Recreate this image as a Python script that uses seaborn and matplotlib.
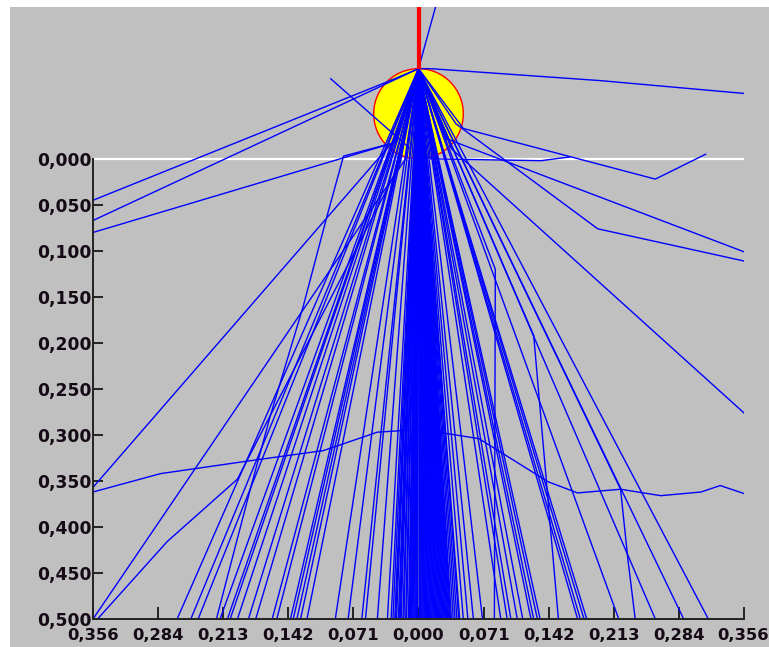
import matplotlib
matplotlib.use("Agg")
import matplotlib.pyplot as plt
import pandas as pd
import seaborn as sns
from matplotlib.patches import Circle, Rectangle

# ---------------- data ----------------
source_x = 0.0
source_y = -0.098
sphere_center_y = -0.049
sphere_radius = 0.049
floor_y = 0.5

# straight tracks from the source: x where each reaches the bottom (y = 0.5)
fan_end_x = [-0.264, -0.249, -0.241, -0.217, -0.209, -0.206, -0.198, -0.186, -0.178,
             -0.160, -0.155, -0.140, -0.137, -0.133, -0.129, -0.122, -0.091, -0.077,
             -0.062, -0.058, -0.045, -0.034, -0.025, -0.022, -0.020, -0.017, -0.014,
             -0.011, -0.008, -0.005, -0.003, -0.001, 0.002, 0.004, 0.007, 0.010, 0.013,
             0.016, 0.019, 0.022, 0.025, 0.027, 0.030, 0.032, 0.035, 0.038, 0.042,
             0.045, 0.049, 0.054, 0.060, 0.070, 0.090, 0.097, 0.101, 0.108, 0.114,
             0.123, 0.126, 0.130, 0.133, 0.174, 0.177, 0.181, 0.184, 0.219, 0.259,
             0.290, 0.317]
# dense core of the spray (x at the bottom)
core_end_x = [-0.030, -0.028, -0.026, -0.024, -0.021, -0.019, -0.016, -0.013, -0.010,
              -0.009, -0.007, -0.006, -0.004, -0.002, 0.000, 0.001, 0.003, 0.005,
              0.006, 0.008, 0.009, 0.011, 0.012, 0.014, 0.015, 0.017, 0.018, 0.020,
              0.021, 0.023, 0.024, 0.026, 0.028, 0.029, 0.031, 0.033, 0.034, 0.036,
              0.040, 0.044]

# deflected / bent tracks
up_x = [0.0, 0.020]
up_y = [-0.098, -0.170]
flat_x = [0.0, 0.013, 0.199, 0.357]
flat_y = [-0.098, -0.098, -0.085, -0.071]
left1_x = [0.0, -0.036, -0.356]
left1_y = [-0.098, -0.083, 0.045]
left2_x = [0.0, -0.028, -0.356]
left2_y = [-0.098, -0.085, 0.067]
left3_x = [0.0, -0.025, -0.356]
left3_y = [-0.098, -0.018, 0.080]
cross_x = [-0.096, -0.009]
cross_y = [-0.087, -0.011]
vee_x = [0.0, 0.049, 0.259, 0.314]
vee_y = [-0.098, -0.033, 0.022, -0.005]
hook_x = [0.0, 0.030, 0.356, 0.359]
hook_y = [-0.098, -0.022, 0.101, 0.097]
kink_x = [0.0, 0.041, 0.196, 0.356]
kink_y = [-0.098, -0.038, 0.076, 0.111]
steep_right_x = [0.0, 0.036, 0.357]
steep_right_y = [-0.098, -0.011, 0.277]
skim_x = [0.0, 0.013, 0.134, 0.165]
skim_y = [-0.098, 0.000, 0.002, -0.002]
cross_wide_x = [-0.356, -0.282, -0.184, -0.104, -0.045, 0.002, 0.066, 0.142, 0.174,
                0.221, 0.265, 0.309, 0.330, 0.357]
cross_wide_y = [0.362, 0.342, 0.328, 0.317, 0.297, 0.294, 0.304, 0.351, 0.363,
                0.359, 0.366, 0.362, 0.355, 0.364]
diag1_x = [0.0, -0.025, -0.356]
diag1_y = [-0.098, -0.022, 0.357]
diag2_x = [0.0, -0.014, -0.356]
diag2_y = [-0.098, 0.000, 0.500]
curve_left_x = [0.0, -0.020, -0.198, -0.275, -0.351]
curve_left_y = [-0.098, 0.005, 0.348, 0.416, 0.500]
bounce_left_x = [0.0, -0.025, -0.082, -0.100, -0.126, -0.162, -0.184, -0.221]
bounce_left_y = [-0.098, -0.018, -0.003, 0.062, 0.160, 0.279, 0.359, 0.500]
drop1_x = [0.0, 0.084, 0.083]
drop1_y = [-0.098, 0.120, 0.500]
drop2_x = [0.0, 0.126, 0.153]
drop2_y = [-0.098, 0.192, 0.500]
drop3_x = [0.0, 0.221, 0.229, 0.237]
drop3_y = [-0.098, 0.359, 0.435, 0.500]

y_ticks = [0.0, 0.05, 0.10, 0.15, 0.20, 0.25, 0.30, 0.35, 0.40, 0.45, 0.50]
y_tick_labels = ["0,000", "0,050", "0,100", "0,150", "0,200", "0,250",
                 "0,300", "0,350", "0,400", "0,450", "0,500"]
x_ticks = [-0.356, -0.2848, -0.2136, -0.1424, -0.0712, 0.0,
           0.0712, 0.1424, 0.2136, 0.2848, 0.356]
x_tick_labels = ["0,356", "0,284", "0,213", "0,142", "0,071", "0,000",
                 "0,071", "0,142", "0,213", "0,284", "0,356"]

# ---------------- build long table ----------------
rows = []
tid = 0
for xe in fan_end_x + core_end_x:
    rows.append((tid, 0, source_x, source_y))
    rows.append((tid, 1, xe, floor_y))
    tid += 1
for xs, ys in [(up_x, up_y), (flat_x, flat_y), (left1_x, left1_y), (left2_x, left2_y),
               (left3_x, left3_y), (cross_x, cross_y), (vee_x, vee_y), (hook_x, hook_y),
               (kink_x, kink_y), (steep_right_x, steep_right_y), (skim_x, skim_y),
               (cross_wide_x, cross_wide_y), (diag1_x, diag1_y), (diag2_x, diag2_y),
               (curve_left_x, curve_left_y), (bounce_left_x, bounce_left_y),
               (drop1_x, drop1_y), (drop2_x, drop2_y), (drop3_x, drop3_y)]:
    for k, (xv, yv) in enumerate(zip(xs, ys)):
        rows.append((tid, k, xv, yv))
    tid += 1
df = pd.DataFrame(rows, columns=["track", "step", "x", "y"])

# ---------------- figure ----------------
W, H = 769, 647
fig = plt.figure(figsize=(W / 100, H / 100), dpi=100)
fig.patch.set_facecolor("white")
fig.add_artist(Rectangle((10 / W, 0), 1, 640 / H, transform=fig.transFigure,
                         facecolor="#c0c0c0", edgecolor="none", zorder=0))
ax = fig.add_axes([93 / W, 28 / H, 651 / W, 612 / H])
ax.set_facecolor("none")

sns.lineplot(data=df, x="x", y="y", units="track", estimator=None, sort=False,
             color="#0000ff", linewidth=1.0, zorder=4, legend=False, ax=ax)

ax.plot([x_ticks[0], x_ticks[-1]], [0, 0], color="white", lw=1.6, zorder=3,
        solid_capstyle="butt")
ax.add_patch(Circle((source_x, sphere_center_y), sphere_radius, facecolor="#ffff00",
                    edgecolor="#ff0000", lw=1.0, zorder=3.5))
ax.plot([source_x, source_x], [source_y, -0.3], color="#ff0000", lw=3.0, zorder=5,
        solid_capstyle="butt")

ax.set_xlim(-0.356, 0.356)
ax.set_ylim(0.5, -0.165)
ax.set_xlabel("")
ax.set_ylabel("")
for s in ["top", "right"]:
    ax.spines[s].set_visible(False)
ax.spines["left"].set_bounds(0, 0.5)
ax.spines["bottom"].set_bounds(-0.356, 0.356)
for s in ["left", "bottom"]:
    ax.spines[s].set_color("#222222")
    ax.spines[s].set_linewidth(1.4)
    ax.spines[s].set_zorder(6)

ax.set_yticks(y_ticks)
ax.set_yticklabels(y_tick_labels, fontweight="bold", fontsize=12.3, color="#150a15")
ax.set_xticks(x_ticks)
ax.set_xticklabels(x_tick_labels, fontweight="bold", fontsize=11.8, color="#150a15")
ax.tick_params(axis="y", direction="in", length=7, width=1.4, pad=1, color="#222222")
ax.tick_params(axis="x", direction="in", length=8.5, width=1.4, pad=6.5, color="#222222")
# keep the last label inside the canvas, as in the reference
xl = ax.get_xticklabels()
xl[-1].set_horizontalalignment("right")
xl[-1].set_x(0.356)
import matplotlib.transforms as mtransforms
xl[-1].set_transform(xl[-1].get_transform() + mtransforms.ScaledTranslation(25 / 100, 0, fig.dpi_scale_trans))

fig.savefig("out.png", dpi=100, facecolor=fig.get_facecolor())
